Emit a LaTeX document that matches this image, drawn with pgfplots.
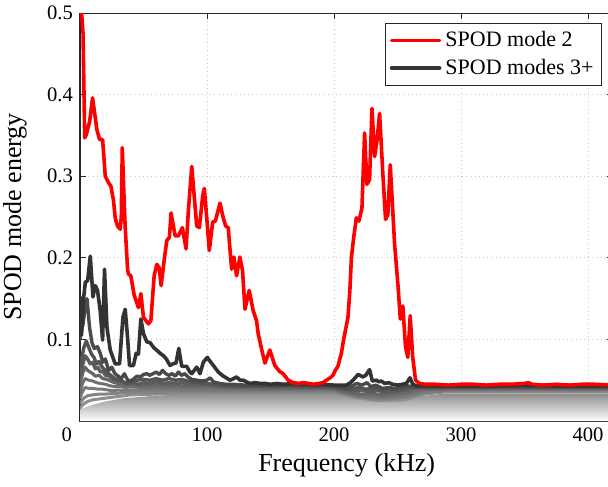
\documentclass[border=0pt]{standalone}
\usepackage{pgfplots}
\pgfplotsset{compat=1.18}
\usepackage{fontspec}
\setmainfont{Liberation Serif}
\definecolor{mred}{RGB}{255,0,0}
\definecolor{mthree}{RGB}{51,51,51}
\definecolor{mfour}{RGB}{74,74,74}
\definecolor{mfive}{RGB}{84,84,84}
\definecolor{msix}{RGB}{92,92,92}
\definecolor{mseven}{RGB}{102,102,102}
\definecolor{meight}{RGB}{112,112,112}
\definecolor{mnine}{RGB}{122,122,122}
\definecolor{mten}{RGB}{132,132,132}
\definecolor{meleven}{RGB}{142,142,142}
\definecolor{axcol}{RGB}{38,38,38}
\begin{document}
\begin{tikzpicture}
\begin{axis}[
  at={(0,0)}, anchor=south west,
  scale only axis, width=266.7pt, height=204pt,
  xmin=0, xmax=420, ymin=0, ymax=0.5,
  xtick={0,100,200,300,400},
  xticklabels={\llap{0\hspace{4pt}},100,200,300,400},
  ytick={0.1,0.2,0.3,0.4,0.5},
  yticklabels={0.1,0.2,0.3,0.4,0.5},
  tick align=inside, major tick length=3pt,
  tick style={color=axcol, line width=0.5pt},
  axis line style={color=axcol, line width=0.5pt},
  ticklabel style={font=\fontsize{10.3}{12}\selectfont, text=black},
  grid=major,
  grid style={color=black!22, line width=0.45pt, dash pattern=on 0.5pt off 1.6pt},
  xlabel={Frequency (kHz)}, ylabel={SPOD mode energy},
  label style={font=\fontsize{13}{15}\selectfont},
  xlabel style={at={(axis description cs:0.5,-0.1078)}, anchor=center},
  ylabel style={at={(axis description cs:-0.1219,0.5)}, anchor=center},
  legend style={at={(0.9787,0.9755)}, anchor=north east, draw=axcol, line width=0.5pt,
    fill=white, font=\fontsize{11}{13}\selectfont, inner xsep=2pt, inner ysep=2pt, row sep=0.5pt},
  legend cell align=left,
  reverse legend,
  legend image code/.code={\draw[#1] (0pt,0pt) -- (24pt,0pt);},
  every axis plot/.append style={line join=round, line cap=round},
]
% shaded band of the many higher modes
\addplot[draw=none, top color=black!45, bottom color=white, forget plot] coordinates {
(0,0.014)(10,0.020)(20,0.024)(35,0.028)(60,0.031)(100,0.034)(200,0.034)(215,0.028)(235,0.024)(255,0.025)(272,0.031)(290,0.034)(420,0.034)
} \closedcycle;
\addplot[meleven, line width=1.5pt, forget plot] coordinates {
(0,0.016)(3,0.021)(6,0.024)(10,0.026)(15,0.027)(20,0.028)(30,0.030)(40,0.032)(60,0.033)(100,0.035)(200,0.035)(215,0.029)(235,0.025)(255,0.026)(272,0.033)(290,0.036)(420,0.036)
};
\addplot[mten, line width=1.5pt, forget plot] coordinates {
(0,0.022)(3,0.028)(6,0.031)(10,0.032)(15,0.033)(20,0.033)(30,0.034)(40,0.035)(60,0.035)(100,0.036)(200,0.036)(215,0.031)(230,0.027)(245,0.027)(260,0.030)(272,0.035)(290,0.037)(420,0.037)
};
\addplot[mnine, line width=1.5pt, forget plot] coordinates {
(0,0.028)(2,0.036)(4,0.041)(7,0.040)(10,0.040)(14,0.039)(18,0.039)(22,0.038)(26,0.037)(30,0.038)(35,0.037)(40,0.038)(50,0.038)(70,0.038)(100,0.037)(150,0.037)(200,0.037)(210,0.033)(225,0.029)(240,0.028)(255,0.030)(268,0.035)(290,0.038)(420,0.038)
};
\addplot[meight, line width=1.5pt, forget plot] coordinates {
(0,0.036)(2,0.046)(4,0.052)(7,0.050)(10,0.049)(13,0.047)(16,0.046)(20,0.045)(24,0.043)(28,0.042)(32,0.042)(36,0.041)(40,0.042)(50,0.041)(60,0.041)(80,0.041)(100,0.040)(130,0.039)(200,0.039)(210,0.035)(220,0.031)(230,0.031)(240,0.030)(250,0.032)(260,0.034)(270,0.038)(290,0.039)(420,0.039)
};
\addplot[mseven, line width=1.6pt, forget plot] coordinates {
(0,0.046)(2,0.058)(4,0.066)(6,0.062)(8,0.060)(10,0.058)(12,0.055)(15,0.056)(18,0.052)(21,0.051)(24,0.049)(27,0.047)(30,0.046)(34,0.045)(38,0.044)(42,0.045)(46,0.043)(50,0.044)(60,0.044)(70,0.044)(80,0.043)(90,0.043)(100,0.043)(120,0.041)(150,0.040)(200,0.040)(208,0.036)(215,0.034)(222,0.033)(228,0.034)(235,0.032)(242,0.033)(250,0.034)(258,0.036)(265,0.039)(280,0.040)(420,0.040)
};
\addplot[msix, line width=1.7pt, forget plot] coordinates {
(0,0.054)(2,0.068)(4,0.080)(6,0.076)(8,0.070)(10,0.072)(12,0.064)(14,0.066)(16,0.060)(18,0.061)(20,0.056)(23,0.055)(26,0.051)(29,0.050)(32,0.049)(35,0.047)(38,0.046)(42,0.047)(46,0.045)(50,0.047)(55,0.046)(60,0.048)(65,0.046)(70,0.047)(75,0.046)(80,0.047)(85,0.045)(90,0.046)(95,0.045)(100,0.045)(110,0.043)(120,0.043)(140,0.042)(170,0.042)(200,0.041)(208,0.039)(215,0.037)(222,0.038)(228,0.036)(235,0.037)(242,0.035)(250,0.037)(258,0.039)(265,0.041)(300,0.041)(350,0.041)(420,0.041)
};
\addplot[mfive, line width=1.7pt, forget plot] coordinates {
(0,0.066)(1.5,0.078)(3,0.090)(5,0.098)(7,0.090)(9,0.082)(11,0.078)(13,0.070)(15,0.073)(17.5,0.066)(20,0.062)(22.5,0.058)(25,0.055)(27.5,0.052)(30,0.050)(32.5,0.050)(35,0.047)(37.5,0.046)(40,0.048)(45,0.050)(50,0.051)(55,0.050)(60,0.052)(65,0.050)(70,0.052)(75,0.050)(80,0.051)(85,0.049)(90,0.048)(95,0.047)(100,0.046)(110,0.044)(120,0.043)(160,0.043)(200,0.042)(210,0.039)(220,0.041)(225,0.039)(230,0.040)(240,0.038)(250,0.039)(260,0.041)(270,0.041)(340,0.042)(420,0.041)
};
\addplot[mfour, line width=1.7pt, forget plot] coordinates {
(0,0.100)(1.2,0.112)(2.3,0.118)(4.0,0.138)(5.5,0.150)(7.5,0.115)(9.4,0.096)(11.2,0.089)(13.8,0.091)(15.9,0.083)(18.0,0.072)(20.0,0.076)(22.5,0.062)(25.0,0.066)(27.5,0.058)(30.0,0.055)(32.5,0.052)(35.0,0.058)(37.5,0.050)(40,0.049)(42.5,0.052)(45,0.055)(47.5,0.054)(50,0.057)(52.5,0.058)(55,0.056)(57.5,0.058)(60,0.060)(62.5,0.057)(65,0.062)(67.5,0.058)(70,0.056)(72.5,0.058)(75,0.055)(77.5,0.060)(80,0.056)(82.5,0.058)(85,0.054)(88,0.051)(92,0.050)(96,0.049)(100,0.050)(102.4,0.053)(105,0.048)(110,0.046)(115,0.045)(120,0.045)(130,0.044)(160,0.044)(200,0.043)(205,0.041)(210,0.040)(214,0.043)(218,0.046)(222,0.044)(226,0.047)(229,0.042)(233,0.044)(238,0.040)(243,0.041)(248,0.040)(253,0.042)(258,0.043)(262,0.042)(300,0.042)(360,0.042)(420,0.042)
};
\addplot[mthree, line width=1.8pt] coordinates {
(0,0.152)(1.2,0.105)(2.8,0.150)(4.2,0.170)(6.0,0.172)(8.1,0.202)(10.2,0.152)(12.0,0.166)(13.8,0.160)(15.9,0.135)(17.8,0.099)(19.3,0.186)(21.2,0.115)(23.8,0.087)(27.7,0.070)(31.1,0.070)(33.8,0.127)(35.6,0.137)(37.4,0.103)(39.0,0.068)(42.1,0.068)(44.2,0.083)(46.0,0.082)(47.9,0.125)(50.0,0.107)(52.6,0.097)(55.2,0.096)(58,0.090)(61.7,0.085)(63,0.083)(65.7,0.080)(68,0.076)(70.9,0.068)(73,0.070)(75.6,0.071)(77.8,0.089)(80.1,0.067)(84.0,0.067)(86.6,0.060)(88,0.058)(91.9,0.066)(94.5,0.058)(97.1,0.072)(100.2,0.078)(103,0.072)(105,0.068)(108.9,0.060)(112.8,0.055)(115,0.053)(118.1,0.050)(121,0.052)(123.3,0.054)(126,0.050)(128.5,0.050)(131,0.048)(133.8,0.046)(138,0.047)(141.6,0.046)(146,0.046)(150,0.045)(155,0.046)(160,0.045)(170,0.046)(180,0.045)(185,0.044)(190,0.045)(200,0.044)(209.7,0.044)(213,0.047)(215,0.050)(218.9,0.057)(222.8,0.054)(225,0.056)(228,0.063)(230.2,0.049)(233.3,0.050)(235.5,0.048)(237.2,0.049)(240,0.046)(243,0.047)(246,0.045)(250.3,0.044)(254,0.045)(257,0.046)(259.8,0.053)(262,0.045)(265,0.043)(290,0.043)(320,0.043)(350,0.044)(380,0.043)(420,0.043)
};
\addlegendentry{SPOD modes 3+}
\addplot[mred, line width=1.8pt] coordinates {
(0,0.515)(1.5,0.495)(2.4,0.475)(3.7,0.347)(5.0,0.351)(7.6,0.367)(9.9,0.396)(13.3,0.357)(15.4,0.345)(17.8,0.345)(19.9,0.300)(22.5,0.292)(24.3,0.288)(26.4,0.270)(27.7,0.249)(29.5,0.239)(31.7,0.235)(32.5,0.250)(33.3,0.335)(34.3,0.290)(35.5,0.240)(37.5,0.185)(38.2,0.180)(40.0,0.178)(42.7,0.154)(46.0,0.139)(47.9,0.156)(50.0,0.127)(53.9,0.119)(55.8,0.123)(58.4,0.178)(60.5,0.192)(62.3,0.188)(63.9,0.166)(66.2,0.196)(68.3,0.221)(70.4,0.225)(71.7,0.255)(74.9,0.227)(77.5,0.227)(80.6,0.237)(83.5,0.211)(85.3,0.257)(88.0,0.312)(91.9,0.239)(94.0,0.237)(96.6,0.276)(97.9,0.285)(99.8,0.249)(101.8,0.209)(104.5,0.244)(106.6,0.245)(110.2,0.267)(112.8,0.249)(114.7,0.239)(116.7,0.237)(119.4,0.186)(121.2,0.201)(123.3,0.178)(125.9,0.201)(128.0,0.184)(129.9,0.137)(133.2,0.160)(136.4,0.135)(139.0,0.123)(140.3,0.107)(143.0,0.088)(145.6,0.071)(149.5,0.087)(153.4,0.068)(157.0,0.061)(159.9,0.058)(163.9,0.050)(167.8,0.047)(172,0.046)(176,0.047)(180,0.046)(184,0.045)(188,0.046)(191.4,0.047)(194,0.050)(197,0.053)(199.2,0.056)(201,0.062)(203.1,0.067)(205.8,0.083)(207.6,0.100)(209.5,0.115)(211.0,0.127)(212.5,0.160)(213.7,0.200)(215.5,0.225)(217.6,0.249)(219.6,0.245)(222.0,0.261)(224.1,0.353)(225.9,0.290)(228.0,0.296)(229.9,0.383)(232.0,0.324)(233.8,0.343)(235.9,0.377)(238.5,0.302)(240.6,0.247)(242.4,0.253)(244.3,0.314)(247.7,0.217)(250.3,0.168)(252.2,0.125)(254.2,0.141)(256.3,0.091)(258.1,0.078)(260.0,0.129)(262.0,0.078)(264.2,0.050)(267.3,0.046)(272,0.045)(280,0.045)(290,0.044)(300,0.045)(310,0.045)(320,0.044)(330,0.045)(340,0.045)(350,0.046)(353,0.047)(356,0.045)(365,0.044)(375,0.045)(385,0.044)(395,0.045)(405,0.045)(420,0.044)
};
\addlegendentry{SPOD mode 2}
\end{axis}
\pgfresetboundingbox
\useasboundingbox (-40pt,-32.5pt) rectangle (264pt,210.5pt);
\end{tikzpicture}
\end{document}
